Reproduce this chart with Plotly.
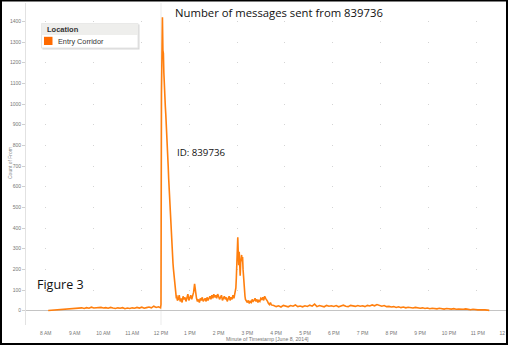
import plotly.graph_objects as go

# ---------------- data ----------------
DATE = "2014-06-08"

times_morning = ["08:05","08:10","08:15","08:20","08:25","08:30","08:35","08:40","08:45","08:50","08:55",
                 "09:00","09:05","09:10","09:15","09:20","09:25","09:30","09:35","09:40","09:45","09:50","09:55",
                 "10:00","10:05","10:10","10:15","10:20","10:25","10:30","10:35","10:40","10:45","10:50","10:55",
                 "11:00","11:05","11:10","11:15","11:20","11:25","11:30","11:35","11:40","11:45","11:50","11:55","11:59"]
vals_morning = [1,2,3,3,5,4,6,7,9,8,10,
                12,10,13,14,11,15,12,17,13,14,12,16,
                13,15,12,16,13,11,14,12,15,10,13,11,
                14,12,16,13,17,12,15,18,14,22,16,19,14]

times_spike = ["12:00","12:01","12:02","12:03","12:04","12:05","12:06","12:07","12:08","12:09",
               "12:10","12:11","12:12","12:13","12:14","12:15","12:16","12:17","12:18","12:19",
               "12:20","12:21","12:22","12:23","12:24","12:25","12:26","12:27","12:28","12:29",
               "12:30","12:31","12:32","12:33","12:34"]
vals_spike = [30,1050,1300,1420,1260,1245,1150,1060,1020,990,
              950,910,870,820,760,700,640,590,530,470,
              420,380,365,340,270,230,200,170,140,120,
              100,85,60,75,50]

times_midday = ["12:36","12:38","12:40","12:42","12:44","12:46","12:48","12:50","12:52","12:54","12:56","12:58",
                "13:00","13:02","13:04","13:06","13:08","13:10","13:12","13:14","13:16","13:18","13:20","13:22",
                "13:24","13:26","13:28","13:30","13:32","13:34","13:36","13:38","13:40","13:42","13:44","13:46",
                "13:48","13:50","13:52","13:54","13:56","13:58","14:00","14:02","14:04","14:06","14:08","14:10",
                "14:12","14:14","14:16","14:18","14:20","14:22","14:24","14:26","14:28","14:30","14:32","14:34"]
vals_midday = [55,75,45,60,40,70,55,65,45,60,80,50,
               65,75,55,70,90,130,85,60,45,55,40,60,
               50,65,45,55,60,45,65,50,60,70,55,75,
               60,80,65,75,60,80,70,55,65,75,50,60,
               70,55,65,45,60,70,50,65,55,75,60,80]

times_second = ["14:36","14:37","14:38","14:39","14:40","14:41","14:42","14:43","14:44","14:45","14:46",
                "14:47","14:48","14:49","14:50","14:51","14:52","14:53","14:54","14:55","14:56","14:58",
                "15:00","15:02","15:04","15:06","15:08","15:10","15:12","15:14","15:16","15:18","15:20",
                "15:22","15:24","15:26","15:28","15:30","15:32","15:34","15:36","15:38","15:40","15:42",
                "15:44","15:46","15:48","15:50","15:55"]
vals_second = [110,160,220,300,355,280,220,285,200,170,230,
               250,270,240,260,200,150,110,85,70,55,45,
               40,50,35,45,40,55,45,50,60,45,55,
               40,50,45,60,55,65,50,70,60,55,45,
               35,30,40,28,25]

times_evening = ["16:00","16:05","16:10","16:15","16:20","16:25","16:30","16:35","16:40","16:45","16:50","16:55",
                 "17:00","17:05","17:10","17:15","17:20","17:25","17:30","17:35","17:40","17:45","17:50","17:55",
                 "18:00","18:05","18:10","18:15","18:20","18:25","18:30","18:35","18:40","18:45","18:50","18:55",
                 "19:00","19:05","19:10","19:15","19:20","19:25","19:30","19:35","19:40","19:45","19:50","19:55",
                 "20:00","20:05","20:10","20:15","20:20","20:25","20:30","20:35","20:40","20:45","20:50","20:55",
                 "21:00","21:05","21:10","21:15","21:20","21:25","21:30","21:35","21:40","21:45","21:50","21:55",
                 "22:00","22:05","22:10","22:15","22:20","22:25","22:30","22:35","22:40","22:45","22:50","22:55",
                 "23:00","23:05","23:10","23:15","23:20","23:24"]
vals_evening = [20,24,18,26,21,19,25,22,28,20,23,19,
                24,21,27,22,32,20,25,23,19,26,22,24,
                21,25,19,23,27,22,20,26,23,21,25,22,
                24,20,26,23,28,24,30,26,22,25,20,21,
                18,20,16,19,15,18,14,17,15,13,16,14,
                12,14,11,13,10,12,11,9,12,10,8,11,
                9,8,10,7,8,6,7,9,6,5,7,5,
                4,5,3,4,3,2]

all_times = times_morning + times_spike + times_midday + times_second + times_evening
all_vals = vals_morning + vals_spike + vals_midday + vals_second + vals_evening
x_dt = [f"{DATE} {t}" for t in all_times]

hour_ticks = [f"{DATE} {h:02d}:00" for h in range(8, 24)] + ["2014-06-09 00:00"]
hour_labels = ["8 AM","9 AM","10 AM","11 AM","12 PM","1 PM","2 PM","3 PM","4 PM","5 PM",
               "6 PM","7 PM","8 PM","9 PM","10 PM","11 PM","12 AM"]
day_lines = [f"{DATE} 12:00", "2014-06-09 00:00"]
y_ticks = list(range(0, 1500, 100))

TITLE = "Number of messages sent from 839736"
ID_TEXT = "ID: 839736"
FIG_TEXT = "Figure 3"
LEGEND_TITLE = "Location"
SERIES = "Entry Corridor"
Y_TITLE = "Count of From"
X_TITLE = "Minute of Timestamp [June 8, 2014]"

ORANGE = "#ff7f0e"

# ---------------- layout helpers ----------------
W, H = 508, 346
ML, MR, MT, MB = 26, 0, 3, 21
PW, PH = W - ML - MR, H - MT - MB

def px(x):
    return (x - ML) / PW

def py(y):
    return (H - MB - y) / PH

fig = go.Figure()
fig.add_trace(go.Scatter(x=x_dt, y=all_vals, mode="lines",
                         line=dict(color=ORANGE, width=1.6), name=SERIES,
                         showlegend=False, hoverinfo="skip"))

fig.update_layout(
    width=W, height=H,
    margin=dict(l=ML, r=MR, t=MT, b=MB, autoexpand=False),
    paper_bgcolor="white", plot_bgcolor="white",
    showlegend=False,
    font=dict(family="Liberation Sans, Arial, sans-serif", color="#888888", size=5),
)
fig.update_xaxes(
    automargin=False,
    range=["2014-06-08 07:18:45", "2014-06-09 00:03:00"],
    tickvals=hour_ticks, ticktext=hour_labels,
    showgrid=False, zeroline=False, showline=False, ticks="",
    ticklabelstandoff=4, ticklabeloverflow="allow",
    tickfont=dict(size=5, color="#777777"),
)
fig.update_yaxes(
    automargin=False,
    range=[-69, 1489],
    tickvals=y_ticks,
    showgrid=True, gridcolor="#d4d4d4", gridwidth=1,
    griddash="0px,19.3px,1px,27.5px",
    zeroline=True, zerolinecolor="#c4c4c4", zerolinewidth=1,
    showline=True, linecolor="#e2e2e2", linewidth=1,
    ticks="outside", ticklen=3, tickcolor="#d0d0d0",
    tickfont=dict(size=5, color="#777777"),
)

for d in day_lines:
    fig.add_shape(type="line", xref="x", yref="paper", x0=d, x1=d, y0=0, y1=1,
                  line=dict(color="#ebebeb", width=1), layer="below")

# legend box (drawn by hand, Tableau style)
fig.add_shape(type="rect", xref="paper", yref="paper",
              x0=px(42.5), x1=px(139.5), y0=py(49.5), y1=py(24.5),
              line=dict(width=0), fillcolor="#d8d8d8")
fig.add_shape(type="rect", xref="paper", yref="paper",
              x0=px(41.5), x1=px(138), y0=py(48), y1=py(23.5),
              line=dict(color="#e4e4e4", width=1), fillcolor="white")
fig.add_shape(type="rect", xref="paper", yref="paper",
              x0=px(41.5), x1=px(138), y0=py(35), y1=py(23.5),
              line=dict(width=0), fillcolor="#eeeeec")
fig.add_shape(type="rect", xref="paper", yref="paper",
              x0=px(44), x1=px(52.5), y0=py(45), y1=py(36.8),
              line=dict(width=0), fillcolor="#ff6a00")

ann = [
    dict(text=f"<b>{LEGEND_TITLE}</b>", x=px(44.5), y=py(29.2), xanchor="left", yanchor="middle",
         font=dict(size=7.5, color="#333333", family="Liberation Sans, Arial")),
    dict(text=SERIES, x=px(55.5), y=py(41), xanchor="left", yanchor="middle",
         font=dict(size=7.3, color="#333333", family="Liberation Sans, Arial")),
    dict(text=TITLE, x=px(278.5), y=py(12.5), xanchor="center", yanchor="middle",
         font=dict(size=11.3, color="#111111", family="Open Sans, sans-serif")),
    dict(text=ID_TEXT, x=px(175), y=py(152.5), xanchor="left", yanchor="middle",
         font=dict(size=9.7, color="#111111", family="Open Sans, sans-serif")),
    dict(text=FIG_TEXT, x=px(35), y=py(284.5), xanchor="left", yanchor="middle",
         font=dict(size=12.5, color="#111111", family="Open Sans, sans-serif")),
    dict(text=Y_TITLE, x=px(10), y=py(163), xanchor="center", yanchor="middle", textangle=-90,
         font=dict(size=5, color="#888888", family="Liberation Sans, Arial")),
    dict(text=X_TITLE, x=px(267.5), y=py(338.5), xanchor="center", yanchor="middle",
         font=dict(size=5.2, color="#777777", family="Liberation Sans, Arial")),
]
for a in ann:
    fig.add_annotation(xref="paper", yref="paper", showarrow=False, **a)

# outer black frame of the picture
fig.add_shape(type="rect", xref="paper", yref="paper",
              x0=px(1), x1=px(507), y0=py(344), y1=py(0.5),
              line=dict(color="black", width=2), fillcolor="rgba(0,0,0,0)")

fig.write_html("out.html")
